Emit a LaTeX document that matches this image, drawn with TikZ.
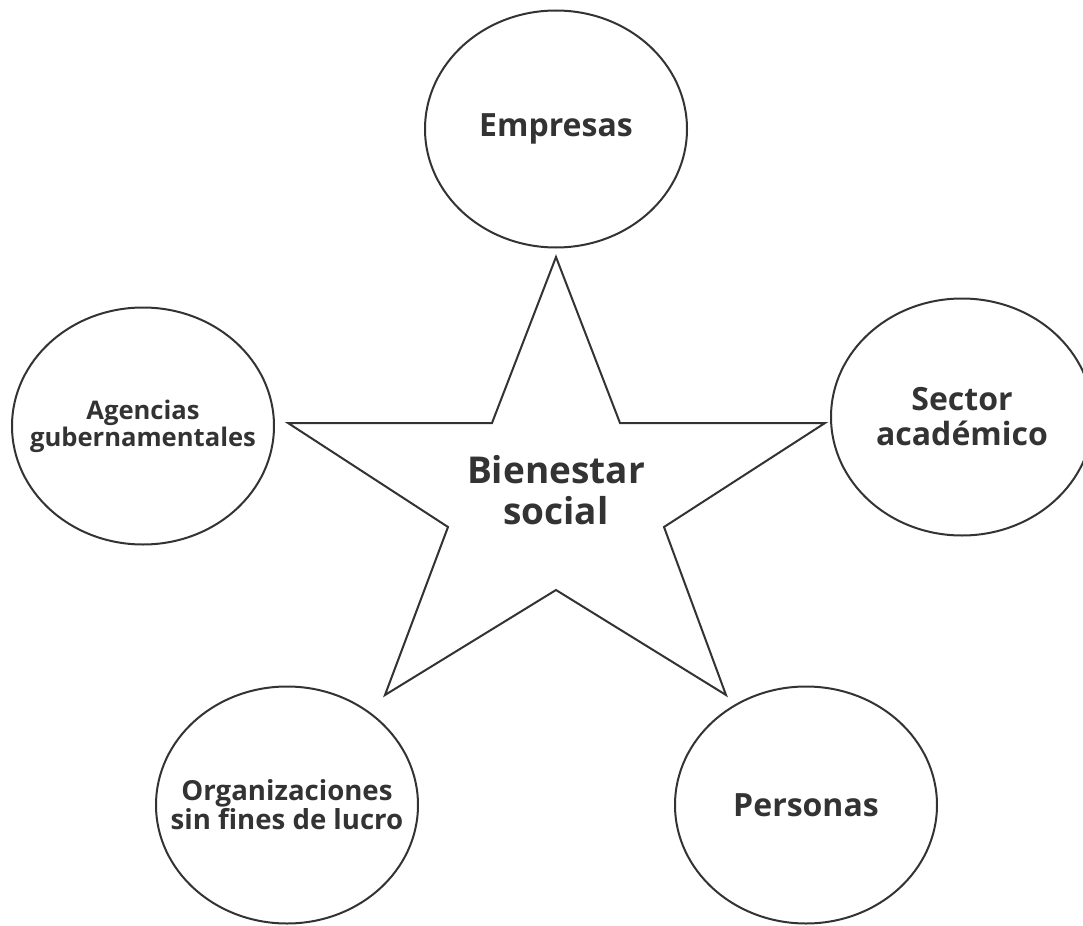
\documentclass[tikz,border=0pt]{standalone}
\usepackage{fontspec}
\setmainfont{Open Sans}
\usetikzlibrary{shapes.geometric}
\definecolor{ink}{HTML}{333333}
\tikzset{
  actor/.style={draw=ink, line width=1pt, ellipse, minimum width=131pt,
    minimum height=118.5pt, inner xsep=-15pt, inner ysep=0pt, align=center,
    text=ink, font=\bfseries\fontsize{16}{17.5}\selectfont},
}
\begin{document}
\begin{tikzpicture}[x=0.5pt, y=-0.5pt]
\useasboundingbox (0,0) rectangle (1083,926);
\clip (0,0) rectangle (1083,926);
% the star
\draw[ink, line width=1pt, line join=miter]
  (556,257) coordinate (top) -- (620,423) -- (825,423) coordinate (right)
  -- (664,527) -- (726,695) coordinate (lowright) -- (556,590)
  -- (385,695) coordinate (lowleft) -- (448,527) -- (288,423) coordinate (left)
  -- (492,423) -- cycle;
\node[text=ink, align=center, font=\bfseries\fontsize{18.5}{20.5}\selectfont]
  (bienestar) at (556,490) {Bienestar\\social};
% the five actors
\node[actor] (empresas) at (556,129) {Empresas};
\node[actor, font=\bfseries\fontsize{12.8}{13.5}\selectfont]
  (agencias) at (143,426) {Agencias\\gubernamentales};
\node[actor] (sector) at (962,417) {Sector\\académico};
\node[actor, font=\bfseries\fontsize{13.8}{14.5}\selectfont]
  (organizaciones) at (287,805) {Organizaciones\\sin fines de lucro};
\node[actor] (personas) at (806,805) {Personas};
\end{tikzpicture}
\end{document}
